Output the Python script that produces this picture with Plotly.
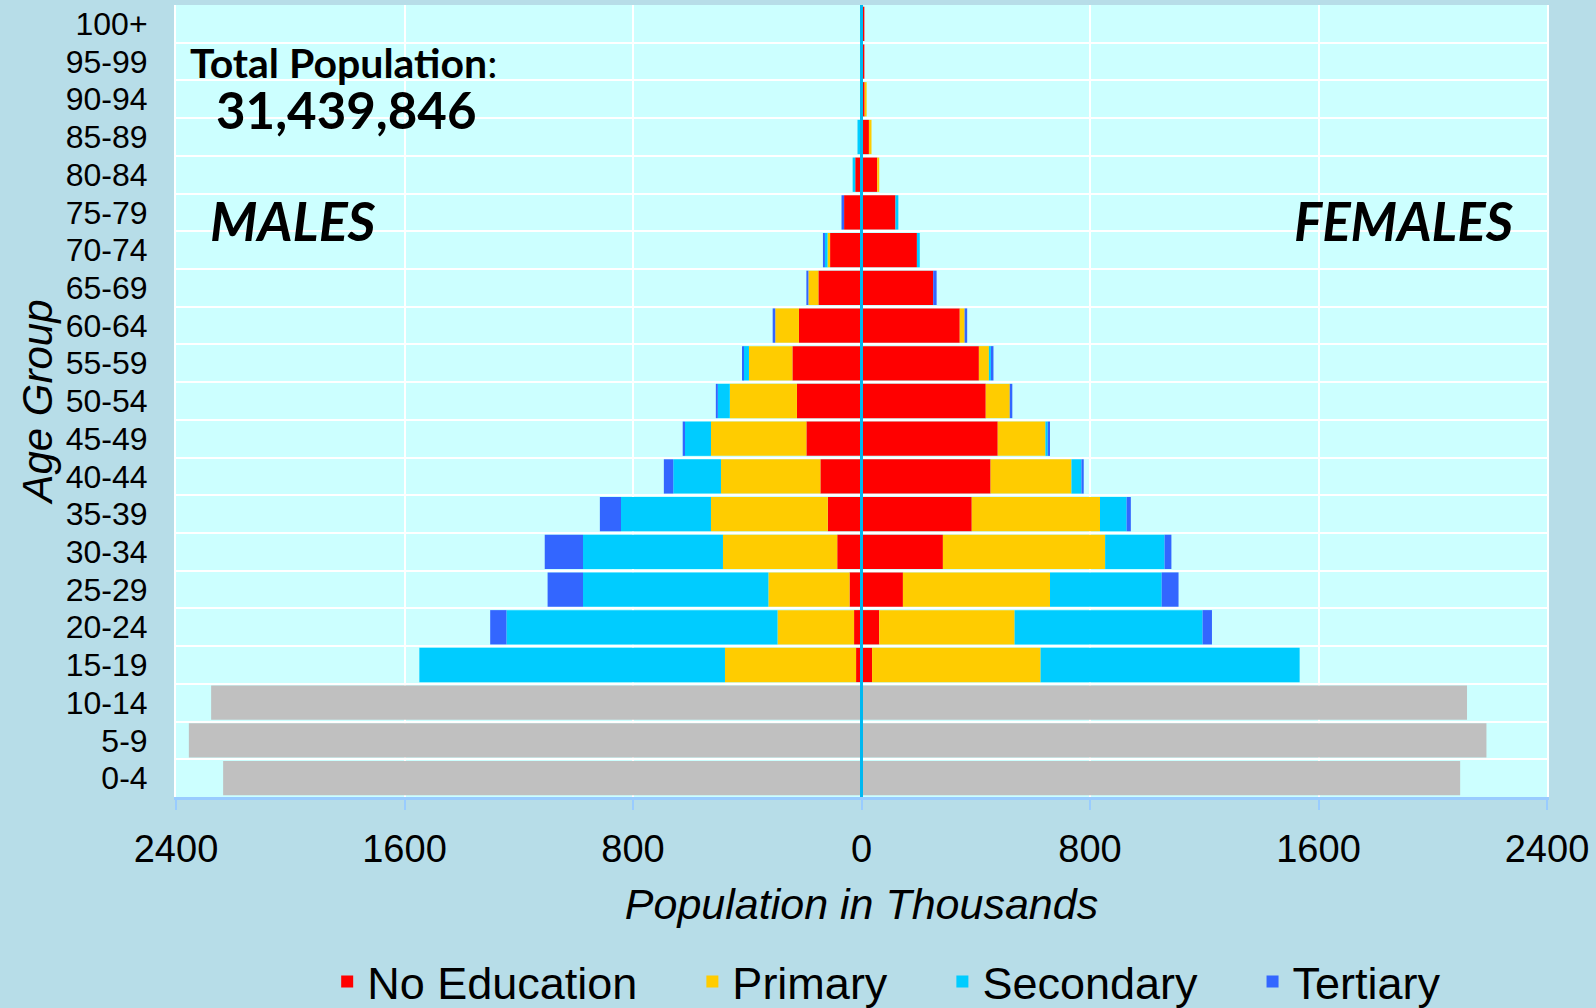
import plotly.graph_objects as go

age_groups = ["0-4", "5-9", "10-14", "15-19", "20-24", "25-29", "30-34", "35-39",
              "40-44", "45-49", "50-54", "55-59", "60-64", "65-69", "70-74",
              "75-79", "80-84", "85-89", "90-94", "95-99", "100+"]

# Population in thousands (males positive here, plotted to the left)
male_none      = [0, 0, 0, 19, 26, 42, 85, 118, 144, 193, 226, 242, 219, 151, 110, 61, 22, 4, 2, 1, 1]
male_primary   = [0, 0, 0, 459, 268, 284, 400, 409, 348, 334, 235, 152, 83, 35, 9, 0, 0, 1, 0, 0, 0]
male_secondary = [0, 0, 0, 1070, 949, 649, 490, 315, 167, 91, 42, 19, 0, 0, 9, 0, 9, 9, 0, 0, 0]
male_tertiary  = [0, 0, 0, 0, 57, 124, 134, 74, 33, 8, 7, 5, 9, 7, 7, 9, 0, 0, 0, 0, 0]
male_children  = [2235, 2355, 2277, 0, 0, 0, 0, 0, 0, 0, 0, 0, 0, 0, 0, 0, 0, 0, 0, 0, 0]

female_none      = [0, 0, 0, 37, 62, 145, 285, 386, 452, 477, 435, 411, 344, 251, 194, 119, 55, 26, 11, 10, 10]
female_primary   = [0, 0, 0, 590, 474, 515, 568, 449, 283, 167, 84, 35, 17, 0, 0, 0, 7, 9, 7, 0, 0]
female_secondary = [0, 0, 0, 907, 658, 391, 208, 93, 35, 8, 0, 7, 0, 0, 10, 10, 0, 0, 0, 0, 0]
female_tertiary  = [0, 0, 0, 0, 33, 59, 24, 15, 8, 8, 9, 9, 9, 12, 0, 0, 0, 0, 0, 0, 0]
female_children  = [2096, 2188, 2120, 0, 0, 0, 0, 0, 0, 0, 0, 0, 0, 0, 0, 0, 0, 0, 0, 0, 0]

x_tick_values = [-2400, -1600, -800, 0, 800, 1600, 2400]
x_tick_labels = ["2400", "1600", "800", "0", "800", "1600", "2400"]

series_names = ["No Education", "Primary", "Secondary", "Tertiary"]
series_colors = ["#FF0000", "#FFCC00", "#00CCFF", "#3366FF"]
male_series = [male_none, male_primary, male_secondary, male_tertiary]
female_series = [female_none, female_primary, female_secondary, female_tertiary]

fig = go.Figure()

fig.add_trace(go.Bar(y=age_groups, x=[-v for v in male_children], orientation="h",
                     marker=dict(color="#C0C0C0", line=dict(width=0)),
                     showlegend=False, name="Children"))
fig.add_trace(go.Bar(y=age_groups, x=female_children, orientation="h",
                     marker=dict(color="#C0C0C0", line=dict(width=0)),
                     showlegend=False, name="Children"))

pad = "\u00a0" * 4
for name, m, f, col in zip(series_names, male_series, female_series, series_colors):
    fig.add_trace(go.Bar(y=age_groups, x=[-v for v in m], orientation="h",
                         marker=dict(color=col, line=dict(width=0)),
                         name=name + pad, legendgroup=name, showlegend=False))
    fig.add_trace(go.Bar(y=age_groups, x=f, orientation="h",
                         marker=dict(color=col, line=dict(width=0)),
                         name=name + pad, legendgroup=name, showlegend=True))

base_font = "Liberation Sans, Arial, sans-serif"
note_font = "Lato, Open Sans, sans-serif"

fig.update_layout(
    width=1596, height=1008,
    barmode="relative", bargap=0.09,
    paper_bgcolor="#B7DDE8", plot_bgcolor="#CCFFFF",
    margin=dict(l=176, r=49, t=5, b=211),
    font=dict(family=base_font, color="black"),
    legend=dict(orientation="h", xref="container", yref="container",
                x=0.205, y=0.026, xanchor="left", yanchor="middle",
                font=dict(size=45, family=base_font), bgcolor="rgba(0,0,0,0)",
                traceorder="normal"),
    xaxis=dict(range=[-2400, 2400], tickvals=x_tick_values, ticktext=x_tick_labels,
               showgrid=True, gridcolor="white", gridwidth=2, zeroline=False,
               showline=True, linecolor="#99CCFF", linewidth=3,
               ticks="outside", ticklen=10, tickwidth=2, tickcolor="#99CCFF",
               tickfont=dict(size=38), ticklabelstandoff=6,
               title=dict(text="<i>Population in Thousands</i>", font=dict(size=43), standoff=21)),
    yaxis=dict(type="category", categoryorder="array", categoryarray=age_groups,
               tickmode="array", tickvals=age_groups,
               range=[-0.5, 20.5], tickson="boundaries", showgrid=True,
               gridcolor="white", gridwidth=2, ticks="", showline=True,
               linecolor="white", linewidth=2, mirror=True,
               tickfont=dict(size=32), ticklabelstandoff=20,
               title=dict(text="<i>Age Group</i>", font=dict(size=42), standoff=0)),
    shapes=[dict(type="line", xref="x", yref="paper", x0=0, x1=0, y0=0, y1=1,
                 line=dict(color="#00B8F0", width=3), layer="above")],
    annotations=[
        dict(text="<b>Total Population</b>:", xref="paper", yref="paper", x=0.0088, y=0.928,
             xanchor="left", yanchor="middle", showarrow=False,
             font=dict(family=note_font, size=41, color="black")),
        dict(text="<b>31,439,846</b>", xref="paper", yref="paper", x=0.0277, y=0.868,
             xanchor="left", yanchor="middle", showarrow=False,
             font=dict(family=note_font, size=51, color="black")),
        dict(text="<b><i>MALES</i></b>", xref="paper", yref="paper", x=0.0233, y=0.7285,
             xanchor="left", yanchor="middle", showarrow=False,
             font=dict(family=note_font, size=54, color="black")),
        dict(text="<b><i>FEMALES</i></b>", xref="paper", yref="paper", x=0.9767, y=0.7285,
             xanchor="right", yanchor="middle", showarrow=False,
             font=dict(family=note_font, size=53, color="black")),
    ],
)

fig.write_html("out.html", config={"displayModeBar": False},
               post_script="document.body.style.margin='0';document.body.style.overflow='hidden';")
